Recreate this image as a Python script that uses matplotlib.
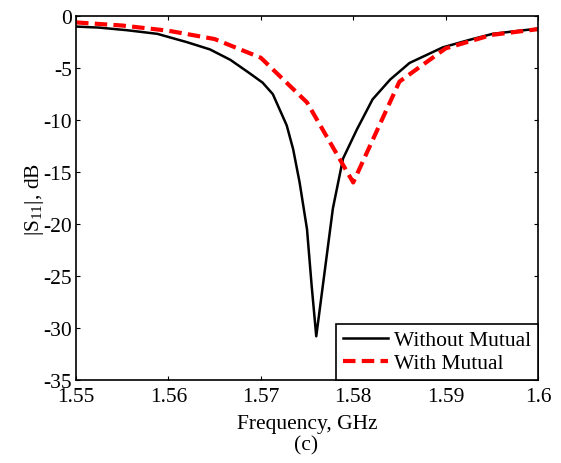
import numpy as np
import matplotlib.pyplot as plt

# data
f_wo = [1.550, 1.5525, 1.5555, 1.5588, 1.562, 1.5645, 1.5667, 1.5688, 1.5702, 1.5713,
        1.5728, 1.5735, 1.5742, 1.575, 1.5755, 1.576, 1.5778, 1.5789, 1.5804, 1.5821,
        1.584, 1.5861, 1.5897, 1.5925, 1.5951, 1.5975, 1.600]
s_wo = [-1.0, -1.1, -1.35, -1.7, -2.5, -3.2, -4.2, -5.5, -6.4, -7.5,
        -10.5, -12.8, -16.0, -20.5, -25.9, -30.8, -18.5, -13.7, -10.9, -8.0,
        -6.1, -4.5, -3.0, -2.3, -1.7, -1.45, -1.2]

f_w = [1.550, 1.555, 1.560, 1.565, 1.570, 1.575, 1.580, 1.585, 1.590, 1.595, 1.600]
s_w = [-0.6, -0.9, -1.4, -2.2, -4.0, -8.3, -16.0, -6.3, -3.1, -1.8, -1.25]

plt.rcParams.update({'font.family': 'Liberation Serif', 'font.size': 15.5,
                     'axes.unicode_minus': False,
                     'mathtext.fontset': 'custom', 'mathtext.rm': 'Liberation Serif',
                     'mathtext.it': 'Liberation Serif:italic'})

fig = plt.figure(figsize=(5.61, 4.64), dpi=100)
ax = fig.add_axes([0.1355, 0.179, 0.8235, 0.784])

ax.plot(f_wo, s_wo, color='black', linewidth=1.8, label='Without Mutual')
ax.plot(f_w, s_w, color='red', linewidth=3, linestyle=(0, (3, 1.5)), label='With Mutual')

ax.set_xlim(1.55, 1.6)
ax.set_ylim(-35, 0)
ax.set_xticks(np.arange(1.55, 1.6001, 0.01))
ax.set_xticklabels(['1.55', '1.56', '1.57', '1.58', '1.59', '1.6'])
ax.set_yticks(np.arange(-35, 1, 5))
ax.tick_params(direction='in', top=True, right=True, length=3, width=0.8)
ax.tick_params(axis='x', pad=5)
ax.tick_params(axis='y', pad=3)
for sp in ax.spines.values():
    sp.set_linewidth(1.2)

ax.set_xlabel('Frequency, GHz', labelpad=6)
ax.set_ylabel('|S$_{11}$|, dB', labelpad=-2)

leg = ax.legend(loc='lower right', borderaxespad=0, fancybox=False, framealpha=1,
                handlelength=2.1, handletextpad=0.3, labelspacing=0.15, borderpad=0.3)
leg.get_frame().set_edgecolor('black')
leg.get_frame().set_linewidth(1.2)

fig.text(0.545, 0.03, '(c)', ha='center', fontsize=15.5)

fig.savefig('out.png', dpi=100)
